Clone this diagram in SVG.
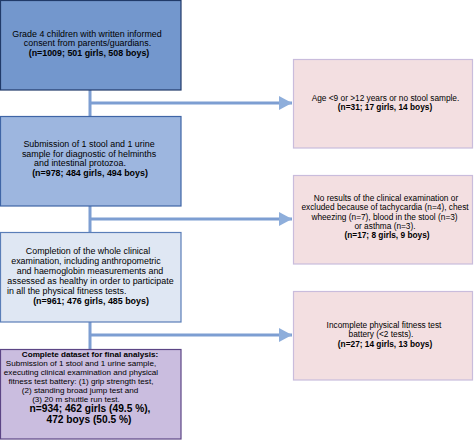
<svg xmlns="http://www.w3.org/2000/svg" width="474" height="440" viewBox="0 0 474 440">
<style>
text{font-family:"Liberation Sans",Arial,sans-serif;font-size:8.3px;fill:#000;text-anchor:middle}
.l text{font-size:8.9px}
.n4 text{font-size:8.1px}
.b{font-weight:bold}
.n4 .big{font-size:10.2px;font-weight:bold}
.conn{stroke:#7d9ed2;stroke-width:3;fill:none}
.r{fill:#f3dfe1;stroke:#c9bcdc;stroke-width:1.2}
</style>
<defs>
<marker id="ah" markerUnits="userSpaceOnUse" markerWidth="14" markerHeight="14" refX="13" refY="7" orient="auto">
<path d="M0,0 L13,7 L0,14 Z" fill="#8eaedb"/>
</marker>
</defs>
<rect width="474" height="440" fill="#fff"/>
<g id="connectors">
<path class="conn" d="M90,90 V116 M90,206 V232 M90,322 V349"/>
<path class="conn" d="M90,103 H292" marker-end="url(#ah)"/>
<path class="conn" d="M90,219 H292" marker-end="url(#ah)"/>
<path class="conn" d="M90,335 H292" marker-end="url(#ah)"/>
</g>
<g id="n1" class="l">
<rect x="0.5" y="0.5" width="180.5" height="89.5" fill="#7397cd" stroke="#203a69" stroke-width="1.2"/>
<text x="87" y="37">Grade 4 children with written informed</text>
<text x="87.5" y="46">consent from parents/guardians.</text>
<text x="89" y="56" class="b">(n=1009; 501 girls, 508 boys)</text>
</g>
<g id="n2" class="l">
<rect x="0.5" y="116.5" width="180.5" height="89.5" fill="#9db6df" stroke="#3f65a6" stroke-width="1.2"/>
<text x="89" y="147">Submission of 1 stool and 1 urine</text>
<text x="89" y="157">sample for diagnostic of helminths</text>
<text x="80" y="166">and intestinal protozoa.</text>
<text x="90" y="176" class="b">(n=978; 484 girls, 494 boys)</text>
</g>
<g id="n3" class="l">
<rect x="0.5" y="232.5" width="180.5" height="89.5" fill="#dfe7f3" stroke="#5a7eb8" stroke-width="1.2"/>
<text x="88" y="254">Completion of the whole clinical</text>
<text x="86" y="264">examination, including anthropometric</text>
<text x="90" y="274">and haemoglobin measurements and</text>
<text x="90.5" y="284">assessed as healthy in order to participate</text>
<text x="7" y="294" style="text-anchor:start">in all the physical fitness tests.</text>
<text x="91" y="304" class="b">(n=961; 476 girls, 485 boys)</text>
</g>
<g id="n4" class="n4">
<rect x="0.5" y="349.5" width="180.5" height="89.5" fill="#cabddf" stroke="#5c4585" stroke-width="1.2"/>
<text x="90" y="356.5" class="b">Complete dataset for final analysis:</text>
<text x="81" y="365.5">Submission of 1 stool and 1 urine sample,</text>
<text x="81" y="374.5">executing clinical examination and physical</text>
<text x="81" y="383.5">fitness test battery: (1) grip strength test,</text>
<text x="80" y="392.5">(2) standing broad jump test and</text>
<text x="76" y="401.5">(3) 20 m shuttle run test.</text>
<text x="90" y="412" class="big">n=934; 462 girls (49.5 %),</text>
<text x="89" y="422.5" class="big">472 boys (50.5 %)</text>
</g>
<g id="r1">
<rect x="293.5" y="59.5" width="179" height="88.5" class="r"/>
<text x="385.5" y="100.5">Age &lt;9 or &gt;12 years or no stool sample.</text>
<text x="385" y="110" class="b">(n=31; 17 girls, 14 boys)</text>
</g>
<g id="r2">
<rect x="293.5" y="175.5" width="179" height="88.5" class="r"/>
<text x="386" y="201">No results of the clinical examination or</text>
<text x="385" y="210">excluded because of tachycardia (n=4), chest</text>
<text x="384.5" y="220">wheezing (n=7), blood in the stool (n=3)</text>
<text x="385" y="229">or asthma (n=3).</text>
<text x="387" y="238" class="b">(n=17; 8 girls, 9 boys)</text>
</g>
<g id="r3">
<rect x="293.5" y="291.5" width="179" height="88.5" class="r"/>
<text x="384" y="328">Incomplete physical fitness test</text>
<text x="381" y="337">battery (&lt;2 tests).</text>
<text x="385" y="347" class="b">(n=27; 14 girls, 13 boys)</text>
</g>
</svg>
